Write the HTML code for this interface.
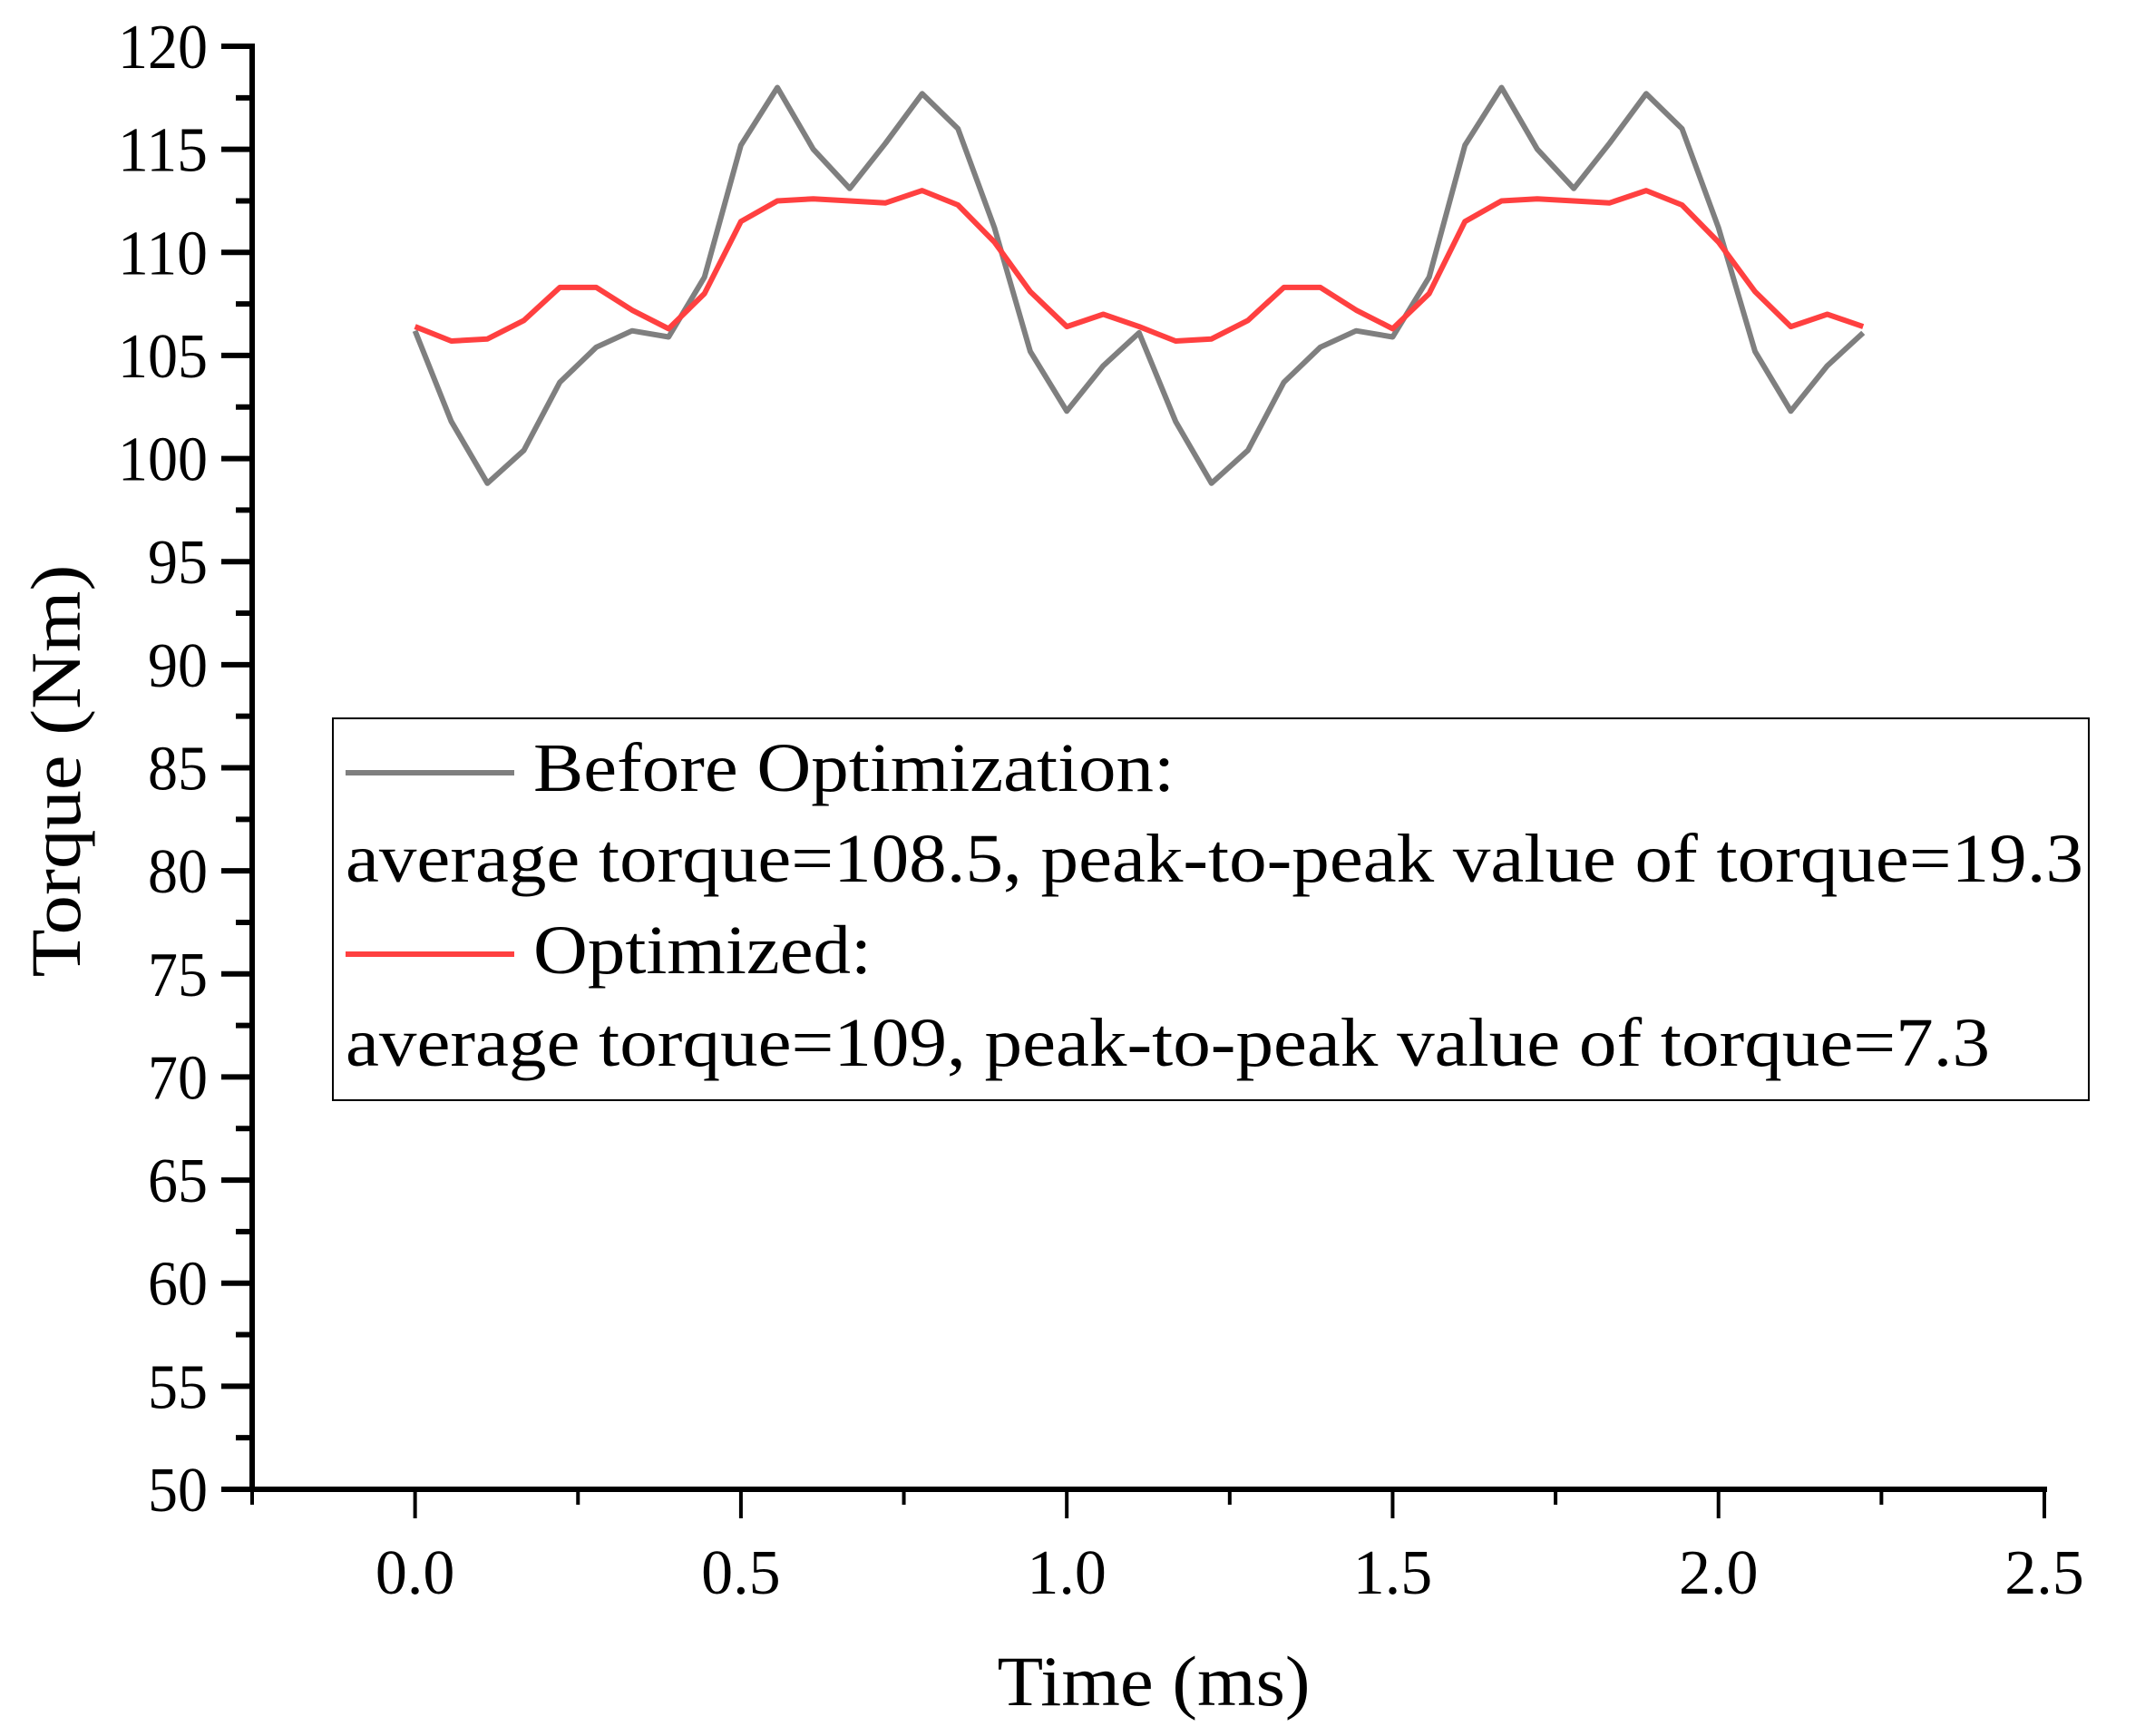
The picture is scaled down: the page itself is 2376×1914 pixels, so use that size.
<!DOCTYPE html>
<html><head><meta charset="utf-8"><style>
html,body{margin:0;padding:0;background:#fff;}
svg{display:block;font-family:"Liberation Serif",serif;}
</style></head><body>
<svg id="chart" width="2376" height="1914" viewBox="0 0 2376 1914">
<g id="axes"></g><g id="series"></g><g id="legend"></g>
</svg>
<script>
const xTicks = [0.0, 0.5, 1.0, 1.5, 2.0, 2.5];
const xTickLabels = ["0.0","0.5","1.0","1.5","2.0","2.5"];
const yTicks = [50,55,60,65,70,75,80,85,90,95,100,105,110,115,120];
const times = [0,0.0556,0.111,0.167,0.222,0.278,0.333,0.389,0.444,0.5,0.556,0.611,0.667,0.722,0.778,0.833,0.889,0.944,1.0,1.056,1.111,1.167,1.222,1.278,1.333,1.389,1.444,1.5,1.556,1.611,1.667,1.722,1.778,1.833,1.889,1.944,2.0,2.056,2.111,2.167,2.222];
const beforeValues = [106.2,101.8,98.8,100.4,103.7,105.4,106.2,105.9,108.8,115.2,118,115,113.1,115.3,117.7,116,111.2,105.2,102.3,104.5,106.1,101.8,98.8,100.4,103.7,105.4,106.2,105.9,108.8,115.2,118,115,113.1,115.3,117.7,116,111.2,105.2,102.3,104.5,106.1];
const optimizedValues = [106.4,105.7,105.8,106.7,108.3,108.3,107.2,106.3,108.0,111.5,112.5,112.6,112.5,112.4,113.0,112.3,110.5,108.1,106.4,107.0,106.4,105.7,105.8,106.7,108.3,108.3,107.2,106.3,108.0,111.5,112.5,112.6,112.5,112.4,113.0,112.3,110.5,108.1,106.4,107.0,106.4];

const NS="http://www.w3.org/2000/svg";
const X0=278, X1=2254, xmin=-0.25, xmax=2.5;
const Y0=1642, Y1=51, ymin=50, ymax=120;
function sx(v){return X0+(v-xmin)/(xmax-xmin)*(X1-X0);}
function sy(v){return Y0-(v-ymin)/(ymax-ymin)*(Y0-Y1);}
function mk(tag,attrs,parent){const e=document.createElementNS(NS,tag);for(const k in attrs)e.setAttribute(k,attrs[k]);parent.appendChild(e);return e;}
const axes=document.getElementById('axes');

let yAxis=mk('line',{x1:X0,y1:Y1-3,x2:X0,y2:Y0+3,stroke:'#000','stroke-width':6},axes);


let xAxis=mk('line',{x1:X0-3,y1:Y0,x2:X1+3,y2:Y0,stroke:'#000','stroke-width':6},axes);



yTicks.forEach((v,i)=>{
  const y=sy(v);
  let t=mk('line',{x1:X0-34,y1:y,x2:X0,y2:y,stroke:'#000','stroke-width':6},axes);
  
  
  if(i<yTicks.length-1){
    const ym=sy(v+2.5);
    let m=mk('line',{x1:X0-18,y1:ym,x2:X0,y2:ym,stroke:'#000','stroke-width':6},axes);
    
    
  }
  const s=String(v);
  let lb=mk('text',{x:229,y:y+24,'text-anchor':'end','font-size':70,textLength:s.length*33,lengthAdjust:'spacingAndGlyphs'},axes);
  lb.textContent=s;
  
  
});
xTicks.forEach((v,i)=>{
  const x=sx(v);
  let t=mk('line',{x1:x,y1:Y0,x2:x,y2:Y0+32,stroke:'#000','stroke-width':4},axes);
  
  
  let m=mk('line',{x1:sx(v-0.25),y1:Y0,x2:sx(v-0.25),y2:Y0+17,stroke:'#000','stroke-width':4},axes);
  
  
  let lb=mk('text',{x:x,y:1757,'text-anchor':'middle','font-size':70},axes);
  lb.textContent=xTickLabels[i];
  
  
});
let xt=mk('text',{x:1272,y:1880,'text-anchor':'middle','font-size':78,textLength:345,lengthAdjust:'spacingAndGlyphs'},axes);
xt.textContent='Time (ms)';


let yt=mk('text',{x:0,y:0,'text-anchor':'middle','font-size':78,transform:'translate(88,850) rotate(-90)',textLength:455,lengthAdjust:'spacingAndGlyphs'},axes);
yt.textContent='Torque (Nm)';



const series=document.getElementById('series');
function pts(vals){return times.map((t,i)=>sx(t).toFixed(1)+','+sy(vals[i]).toFixed(1)).join(' ');}
let g=mk('polyline',{points:pts(beforeValues),fill:'none',stroke:'#7f7f7f','stroke-width':6,'stroke-linejoin':'round'},series);


let r=mk('polyline',{points:pts(optimizedValues),fill:'none',stroke:'#ff4040','stroke-width':6,'stroke-linejoin':'round'},series);



const lg=document.getElementById('legend');


let box=mk('rect',{x:367,y:792,width:1936,height:421,fill:'none',stroke:'#000','stroke-width':2},lg);


let l1=mk('line',{x1:381,y1:852,x2:567,y2:852,stroke:'#7f7f7f','stroke-width':6},lg);


let l2=mk('line',{x1:381,y1:1052,x2:567,y2:1052,stroke:'#ff4040','stroke-width':6},lg);


const lines=[
  [588,872,'Before Optimization:',707,'legend-entry-before'],
  [381,972,'average torque=108.5, peak-to-peak value of torque=19.3',1916,'legend-before-stats'],
  [588,1073,'Optimized:',373,'legend-entry-optimized'],
  [381,1175,'average torque=109, peak-to-peak value of torque=7.3',1813,'legend-optimized-stats']
];
lines.forEach(l=>{
  let t=mk('text',{x:l[0],y:l[1],'font-size':76,textLength:l[3],lengthAdjust:'spacingAndGlyphs'},lg);
  t.textContent=l[2];
  
  
});
</script>
</body></html>
